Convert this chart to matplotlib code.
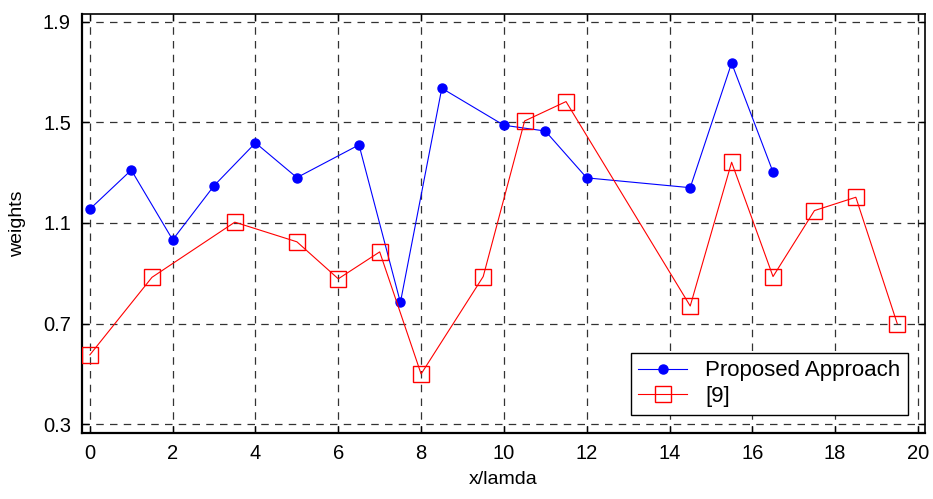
import matplotlib
matplotlib.use("Agg")
import matplotlib.pyplot as plt

plt.rcParams['font.family'] = ['Liberation Sans', 'DejaVu Sans']

# Proposed approach
prop_x = [0, 1, 2, 3, 4, 5, 6.5, 7.5, 8.5, 10, 11, 12, 14.5, 15.5, 16.5]
prop_w = [1.155, 1.31, 1.033, 1.248, 1.418, 1.28, 1.41, 0.784, 1.635, 1.488,
          1.465, 1.279, 1.24, 1.735, 1.302]

# Reference method [9]
ref_x = [0, 1.5, 3.5, 5, 6, 7, 8, 9.5, 10.5, 11.5, 14.5, 15.5, 16.5, 17.5, 18.5, 19.5]
ref_w = [0.576, 0.884, 1.103, 1.025, 0.878, 0.985, 0.50, 0.887, 1.505, 1.582,
         0.77, 1.341, 0.887, 1.149, 1.202, 0.70]

xticks = [0, 2, 4, 6, 8, 10, 12, 14, 16, 18, 20]
yticks = [0.3, 0.7, 1.1, 1.5, 1.9]

fig = plt.figure(figsize=(9.33, 4.99), dpi=100)
ax = fig.add_axes([0.0879, 0.133, 0.9035, 0.839])

ax.plot(prop_x, prop_w, color='blue', lw=0.8, marker='o', markersize=6.5,
        markerfacecolor='blue', markeredgecolor='blue', label='Proposed Approach', zorder=3)
ax.plot(ref_x, ref_w, color='red', lw=0.8, marker='s', markersize=11.5,
        markerfacecolor='none', markeredgecolor='red', markeredgewidth=1.0,
        label='[9]', zorder=3)

ax.set_xlim(-0.19, 20.17)
ax.set_ylim(0.267, 1.93)
ax.set_xticks(xticks)
ax.set_yticks(yticks)
ax.set_yticklabels([f"{v:.1f}" for v in yticks])

ax.grid(True, color='#333333', linestyle=(0, (6, 5)), linewidth=0.9)
ax.tick_params(direction='in', top=True, right=True, length=5, width=1,
               labelsize=14.5, pad=8)
for side in ['left', 'bottom']:
    ax.spines[side].set_linewidth(1.6)
for side in ['top', 'right']:
    ax.spines[side].set_linewidth(1.2)

ax.set_xlabel('x/lamda', fontsize=14, labelpad=6)
ax.set_ylabel('weights', fontsize=14, labelpad=12)

leg = ax.legend(loc='lower right', bbox_to_anchor=(0.980, 0.043), fontsize=16,
                frameon=True, fancybox=False, edgecolor='black', framealpha=1,
                handlelength=2.2, handletextpad=0.8, borderpad=0.35,
                labelspacing=0.2, borderaxespad=0)
leg.get_frame().set_linewidth(1.0)

fig.savefig('out.png', dpi=100)
